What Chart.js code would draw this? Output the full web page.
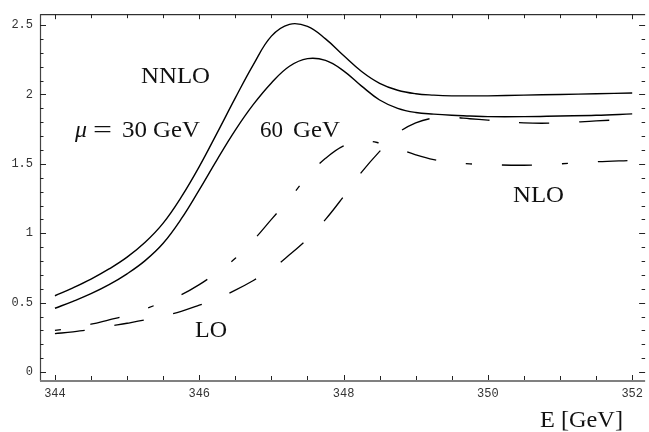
<!DOCTYPE html>
<html>
<head>
<meta charset="utf-8">
<script src="https://cdn.jsdelivr.net/npm/chart.js@4/dist/chart.umd.min.js"></script>
<style>
  html, body { margin: 0; padding: 0; background: #fff; }
  #wrap { width: 649px; height: 432px; position: relative; }
</style>
</head>
<body>
<div id="wrap"><canvas id="c" width="649" height="432"></canvas></div>
<script>
// Energy grid (GeV)
const energy = [344, 344.25, 344.5, 344.75, 345, 345.25, 345.5, 345.75, 346, 346.25,
                346.5, 346.75, 347, 347.25, 347.5, 347.75, 348, 348.25, 348.5, 348.75,
                349, 349.25, 349.5, 349.75, 350, 350.5, 351, 351.5, 352];
// NNLO, mu = 30 GeV (solid)
const nnlo30 = [0.55, 0.607, 0.67, 0.743, 0.828, 0.935, 1.073, 1.26, 1.48, 1.725,
                1.975, 2.215, 2.42, 2.505, 2.49, 2.40, 2.28, 2.165, 2.08, 2.03,
                2.005, 1.995, 1.99, 1.99, 1.99, 1.995, 2.00, 2.005, 2.01];
// NNLO, mu = 60 GeV (solid)
const nnlo60 = [0.46, 0.51, 0.565, 0.63, 0.708, 0.803, 0.928, 1.103, 1.313, 1.533,
                1.743, 1.928, 2.083, 2.203, 2.258, 2.245, 2.17, 2.06, 1.96, 1.90,
                1.87, 1.858, 1.85, 1.845, 1.84, 1.84, 1.845, 1.85, 1.86];
// NLO (dash-dot)
const nlo = [0.30, 0.32, 0.345, 0.377, 0.41, 0.455, 0.505, 0.557, 0.63, 0.72,
             0.82, 0.95, 1.10, 1.25, 1.41, 1.54, 1.63, 1.665, 1.65, 1.61,
             1.565, 1.53, 1.51, 1.50, 1.495, 1.49, 1.50, 1.515, 1.525];
// LO (dashed)
const lo = [0.277, 0.29, 0.307, 0.33, 0.352, 0.376, 0.405, 0.438, 0.482, 0.53,
            0.59, 0.66, 0.74, 0.845, 0.96, 1.10, 1.265, 1.44, 1.59, 1.72,
            1.795, 1.83, 1.835, 1.825, 1.815, 1.795, 1.795, 1.81, 1.82];

const xTickLabels = [344, 346, 348, 350, 352];
const yTickLabels = [0, 0.5, 1, 1.5, 2, 2.5];

const toPts = arr => energy.map((e, i) => ({ x: e, y: arr[i] }));

const SERIF = '"Liberation Serif", "Times New Roman", serif';
const MONO = '"Liberation Mono", "DejaVu Sans Mono", monospace';

function fitText(ctx, t, left, base, width, font) {
  ctx.font = font;
  const w = ctx.measureText(t).width;
  ctx.save();
  ctx.translate(left, base);
  ctx.scale(width / w, 1);
  ctx.fillText(t, 0, 0);
  ctx.restore();
}

const framePlugin = {
  id: 'frame',
  afterDatasetsDraw(chart) {
    const { ctx, chartArea: a, scales: { x, y } } = chart;
    ctx.save();
    // top frame
    ctx.strokeStyle = '#000';
    ctx.lineWidth = 1;
    ctx.beginPath();
    ctx.moveTo(a.left, a.top + 0.5); ctx.lineTo(a.right, a.top + 0.5);
    ctx.stroke();
    // left axis
    ctx.strokeStyle = '#444';
    ctx.lineWidth = 1.2;
    ctx.beginPath();
    ctx.moveTo(a.left + 0.5, a.top); ctx.lineTo(a.left + 0.5, a.bottom);
    ctx.stroke();
    // bottom axis
    ctx.strokeStyle = '#808080';
    ctx.lineWidth = 2;
    ctx.beginPath();
    ctx.moveTo(a.left, a.bottom); ctx.lineTo(a.right, a.bottom);
    ctx.stroke();
    // x ticks (bottom and top, inward)
    ctx.strokeStyle = '#222';
    ctx.lineWidth = 1;
    for (let v = 344; v <= 352.001; v += 0.5) {
      const px = Math.round(x.getPixelForValue(v)) + 0.5;
      const major = Math.abs(v - Math.round(v / 2) * 2) < 1e-6;
      const len = major ? 5 : 4;
      ctx.beginPath();
      ctx.moveTo(px, a.bottom - 1); ctx.lineTo(px, a.bottom - 1 - len);
      ctx.moveTo(px, a.top); ctx.lineTo(px, a.top + len);
      ctx.stroke();
    }
    // y ticks (left and right, inward)
    for (let k = 0; k <= 25; k++) {
      const v = k / 10;
      const py = Math.round(y.getPixelForValue(v)) + 0.5;
      const major = k % 5 === 0;
      const len = major ? 6 : 3.5;
      ctx.beginPath();
      ctx.moveTo(a.left, py); ctx.lineTo(a.left + len, py);
      ctx.moveTo(a.right, py); ctx.lineTo(a.right - len, py);
      ctx.stroke();
    }
    // annotations
    ctx.fillStyle = '#111';
    ctx.textBaseline = 'alphabetic';
    ctx.textAlign = 'left';
    const F = '23px ' + SERIF;
    const FI = 'italic 23px ' + SERIF;
    fitText(ctx, 'NNLO', 141, 83, 69, F);
    fitText(ctx, '\u03BC', 75, 137, 12, FI);
    fitText(ctx, '=', 93, 137, 19, F);
    fitText(ctx, '30', 122, 137, 25, F);
    fitText(ctx, 'GeV', 153, 137, 47, F);
    fitText(ctx, '60', 260, 137, 23, F);
    fitText(ctx, 'GeV', 293, 137, 47, F);
    fitText(ctx, 'NLO', 513, 202, 51, F);
    fitText(ctx, 'LO', 195, 337, 32, F);
    fitText(ctx, 'E [GeV]', 540, 427, 83, F);
    ctx.restore();
  }
};

const common = {
  pointRadius: 0,
  borderColor: '#000',
  fill: false,
  tension: 0.4,
};

new Chart(document.getElementById('c'), {
  type: 'line',
  data: {
    datasets: [
      { ...common, label: 'NNLO mu=30 GeV', data: toPts(nnlo30), borderWidth: 1.4 },
      { ...common, label: 'NNLO mu=60 GeV', data: toPts(nnlo60), borderWidth: 1.4 },
      { ...common, label: 'NLO', data: toPts(nlo), borderWidth: 1.3, borderDash: [6, 30, 30, 30] },
      { ...common, label: 'LO', data: toPts(lo), borderWidth: 1.3, borderDash: [30, 30] },
    ]
  },
  options: {
    responsive: false,
    animation: false,
    events: [],
    layout: { padding: { top: 8, right: 0, left: 0, bottom: 0 } },
    plugins: { legend: { display: false }, tooltip: { enabled: false } },
    scales: {
      x: {
        type: 'linear',
        min: 343.793, max: 352.179,
        grid: { display: false, drawTicks: false },
        border: { display: false },
        afterBuildTicks: s => { s.ticks = xTickLabels.map(v => ({ value: v })); },
        afterFit: s => { s.height = 51; },
        ticks: {
          autoSkip: false, maxRotation: 0, padding: 6,
          color: '#333', font: { family: MONO, size: 12 },
          callback: v => String(v)
        }
      },
      y: {
        type: 'linear',
        min: -0.064, max: 2.578,
        grid: { display: false, drawTicks: false },
        border: { display: false },
        afterBuildTicks: s => { s.ticks = yTickLabels.map(v => ({ value: v })); },
        afterFit: s => { s.width = 40; },
        ticks: {
          autoSkip: false, padding: 7,
          color: '#333', font: { family: MONO, size: 12 },
          callback: v => String(v)
        }
      }
    }
  },
  plugins: [framePlugin]
});
</script>
</body>
</html>
